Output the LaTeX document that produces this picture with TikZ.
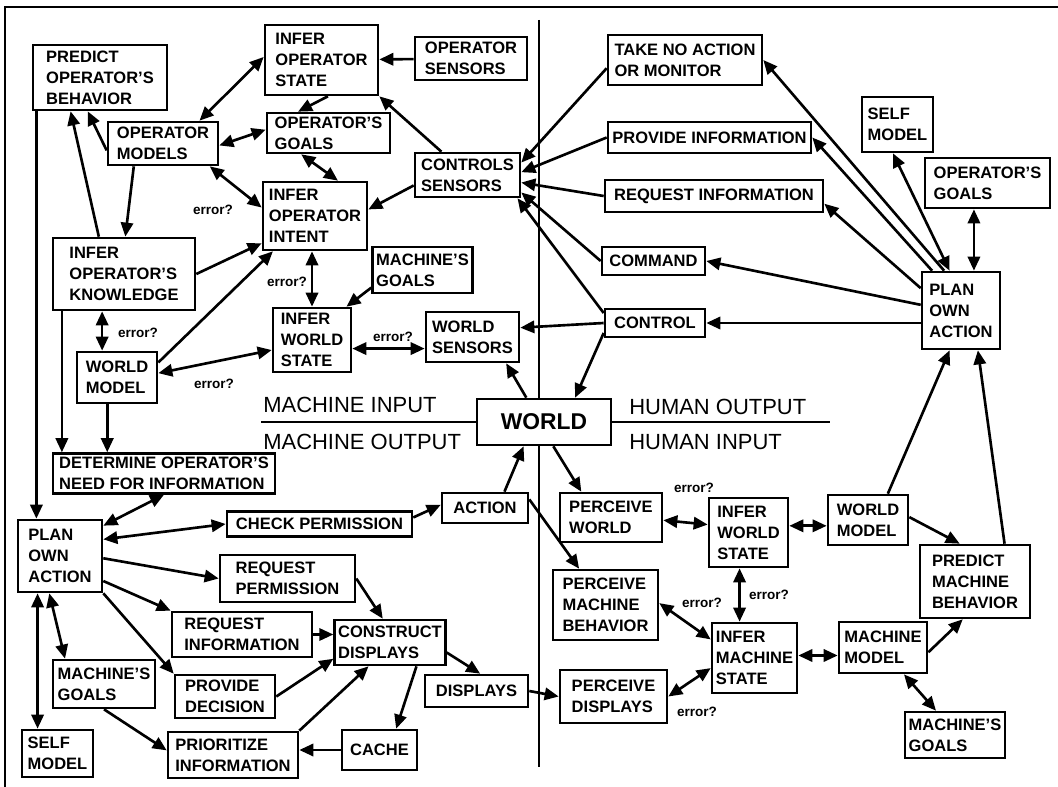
\documentclass[tikz,border=0pt]{standalone}
\usepackage{fontspec}
\setmainfont{Liberation Sans}
\usetikzlibrary{arrows.meta}

\begin{document}
\begin{tikzpicture}[x=0.02cm, y=-0.02cm, line width=1.5pt,
  >={Triangle[length=8pt,width=7pt]},
  box/.style 2 args={draw, fill=white, align=left, inner sep=2pt,
    font=\bfseries\fontsize{9.4}{12}\selectfont,
    minimum width=#1*0.02cm, minimum height=#2*0.02cm},
  err/.style={inner sep=1pt, font=\bfseries\fontsize{7.7}{9}\selectfont},
  side/.style={anchor=west, inner sep=0pt, font=\fontsize{12.5}{15}\selectfont}]

\useasboundingbox (0,0) rectangle (1058,787);

\draw[line width=1.2pt] (5,787) -- (5,7) -- (1058,7);
\draw (539,20) -- (539,767);


\node[box={134}{65}] (pob) at (100,77.5) {PREDICT\\OPERATOR'S\\BEHAVIOR};
\node[box={110}{43}] (om) at (163,143.5) {OPERATOR\\MODELS};
\node[box={113}{70}] (ios) at (321.5,60) {INFER\\OPERATOR\\STATE};
\node[box={112}{43}] (osn) at (471,58.5) {OPERATOR\\SENSORS};
\node[box={123}{40}] (og) at (328.5,133) {OPERATOR'S\\GOALS};
\node[box={105}{44}] (cs) at (467.5,175) {CONTROLS\\SENSORS};
\node[box={104}{68}] (ioi) at (315,216) {INFER\\OPERATOR\\INTENT};
\node[box={97}{46}] (mg) at (422.5,270) {MACHINE'S\\GOALS};
\node[box={142}{72}] (iok) at (124,274) {INFER\\OPERATOR'S\\KNOWLEDGE};
\node[box={80}{51}] (wm) at (117,377.5) {WORLD\\MODEL};
\node[box={78}{64}] (iws) at (312,340) {INFER\\WORLD\\STATE};
\node[box={93}{50}] (wsn) at (472.5,337) {WORLD\\SENSORS};
\node[box={134}{46}, font=\bfseries\fontsize{13}{15}\selectfont] (world) at (544,422) {WORLD};
\node[box={222}{37}] (dni) at (164,473.5) {DETERMINE OPERATOR'S\\NEED FOR INFORMATION};
\node[box={84}{72}] (plan) at (60,556) {PLAN\\OWN\\ACTION};
\node[box={185}{25}] (chk) at (319.5,524) {CHECK PERMISSION};
\node[box={86}{30}] (act) at (485,508) {ACTION};
\node[box={135}{47}] (rp) at (287.5,578.5) {REQUEST\\PERMISSION};
\node[box={140}{45}] (ri) at (242,634.5) {REQUEST\\INFORMATION};
\node[box={100}{43}] (pd) at (225,696.5) {PROVIDE\\DECISION};
\node[box={102}{48}] (mgl) at (104,684) {MACHINE'S\\GOALS};
\node[box={71}{47}] (sml) at (57.5,753.5) {SELF\\MODEL};
\node[box={130}{46}] (pri) at (233,755) {PRIORITIZE\\INFORMATION};
\node[box={110}{45}] (cd) at (390,642.5) {CONSTRUCT\\DISPLAYS};
\node[box={103}{32}] (dsp) at (476.5,691) {DISPLAYS};
\node[box={75}{40}] (cache) at (379.5,750) {CACHE};


\node[box={154}{50}] (tna) at (685,60) {TAKE NO ACTION\\OR MONITOR};
\node[box={203}{31}] (pinf) at (709.5,137.5) {PROVIDE INFORMATION};
\node[box={218}{32}] (rinf) at (714,196) {REQUEST INFORMATION};
\node[box={103}{28}] (cmd) at (653.5,261) {COMMAND};
\node[box={100}{28}] (ctl) at (655,323) {CONTROL};
\node[box={71}{55}] (smr) at (897.5,124.5) {SELF\\MODEL};
\node[box={125}{50}] (ogr) at (987.5,183) {OPERATOR'S\\GOALS};
\node[box={78}{77}] (planr) at (961,310.5) {PLAN\\OWN\\ACTION};
\node[box={80}{50}] (wmr) at (868,520) {WORLD\\MODEL};
\node[box={110}{73}] (pmb) at (975,581.5) {PREDICT\\MACHINE\\BEHAVIOR};
\node[box={88}{51}] (mm) at (883,647.5) {MACHINE\\MODEL};
\node[box={100}{46}] (mgr) at (955,735) {MACHINE'S\\GOALS};
\node[box={85}{70}] (ims) at (754.5,658) {INFER\\MACHINE\\STATE};
\node[box={79}{69}] (iwsr) at (748.5,532.5) {INFER\\WORLD\\STATE};
\node[box={102}{49}] (pw) at (611,517.5) {PERCEIVE\\WORLD};
\node[box={105}{70}] (pmbh) at (605.5,605) {PERCEIVE\\MACHINE\\BEHAVIOR};
\node[box={107}{53}] (pds) at (613.5,696.5) {PERCEIVE\\DISPLAYS};


\draw (world.west) -- ++(-215,0);
\draw (world.east) -- ++(218,0);
\node[side] (minp) at (262,405) {MACHINE INPUT};
\node[side] (mout) at (262,442) {MACHINE OUTPUT};
\node[side] (hout) at (628,407) {HUMAN OUTPUT};
\node[side] (hinp) at (628,442) {HUMAN INPUT};

\foreach \n/\x/\y in {1/213/210, 2/287/282, 3/138/333, 4/214/384, 5/393/337,
                      6/694/488, 7/769/595, 8/702/603, 9/697/712}
\node[err] (e\n) at (\x,\y) {error?};


\draw[->] (osn) -- (ios);
\draw[->] (cs) -- (ios.south east);
\draw[->] (ios.-80) -- (og.145);
\draw[<->] (og.-142) -- (ioi.57);
\draw[->] (cs.-169) -- (ioi.7);
\draw[<->] (om.32) -- (ios.177);
\draw[<->] (om.-2) -- (og.177);
\draw[<->] (om.-26) -- (ioi.171);
\draw[->] (om.-173) -- (pob.-110);
\draw[->] (om.-142) -- (iok.88);
\draw[->] (iok.124) -- (pob.-131);
\draw[->] (pob.-152) -- (pob.-152 |- plan.north);
\draw[->] (iok.east) -- (ioi.-153);
\draw[->] (wm.20) -- (ioi.-140);
\draw[<->] (iws.north) -- (iws.north |- ioi.south);
\draw[->] (mg.-161) -- (iws.44);
\draw[<->] (iws.-12) -- (iws.-12 -| wsn.west);
\draw[<->] (wm.6) -- (iws.-166);
\draw[<->] (wm.119) -- (wm.119 |- iok.south);
\draw[->] (iok.-149) -- (iok.-149 |- dni.north);
\draw[->] (wm.-110) -- (wm.-110 |- dni.north);


\draw[->] (ctl.west) -- (wsn.11);
\draw[->] (ctl.-169) -- (world.38);
\draw[->] (world.126) -- (wsn.-38);
\foreach \sa/\ta in {tna.-174/13, pinf.west/3, rinf.west/-8, cmd.west/-18, ctl.169/-25}
\draw[->] (\sa) -- (cs.\ta);


\draw[->] (planr.113) -- (tna.east);
\draw[->] (planr.126) -- (pinf.east);
\draw[->] (planr.151) -- (rinf.-4);
\draw[->] (planr.172) -- (cmd.east);
\draw[->] (ctl.east -| planr.west) -- (ctl.east);
\draw[<->] (smr.-99) -- (planr.106);
\draw[<->] (planr.72) -- (planr.72 |- ogr.south);
\draw[->] (wmr.53) -- (planr.-106);
\draw[->] (pmb.52) -- (planr.-67);
\draw[->] (wmr.4) -- (pmb.112);
\draw[->] (mm.-6) -- (pmb.-108);
\draw[<->] (mm.-170) -- (mm.-170 -| ims.east);
\draw[<->] (mm.-52) -- (mgr.128);
\draw[<->] (wmr.-172) -- (wmr.-172 -| iwsr.east);
\draw[<->] (iwsr.-104) -- (iwsr.-104 |- ims.north);
\draw[<->] (pw.-3) -- (iwsr.169);
\draw[->] (world.-69) -- (pw.139);
\draw[->] (act.11) -- (pmbh.126);
\draw[->] (act.40) -- (world.-130);
\draw[->] (chk.4) -- (act.176);
\draw[<->] (pmbh.2) -- (ims.157);
\draw[<->] (pds.east) -- (ims.-167);
\draw[->] (dsp.east) -- (pds.west);


\draw[<->] (dni.south) -- (plan.35);
\draw[<->] (plan.21) -- (chk.west);
\draw[->] (plan.-3) -- (rp.west);
\draw[->] (plan.-30) -- (ri.north west);
\draw[->] (plan.south east) -- (pd.north west);
\draw[<->] (plan.-106) -- (mgl.147);
\draw[<->] (plan.-121) -- (plan.-121 |- sml.north);
\draw[->] (mgl.south) -- (pri.176);
\draw[->] (rp.east) -- (cd.107);
\draw[->] (ri.east) -- (ri.east -| cd.west);
\draw[->] (pd.east) -- (cd.-164);
\draw[->] (pri.north east) -- (cd.-132);
\draw[->] (cd.-42) -- (cache.52);
\draw[->] (cache.west) -- (cache.west -| pri.east);
\draw[->] (cd.-10) -- (dsp.78);

\end{tikzpicture}
\end{document}
